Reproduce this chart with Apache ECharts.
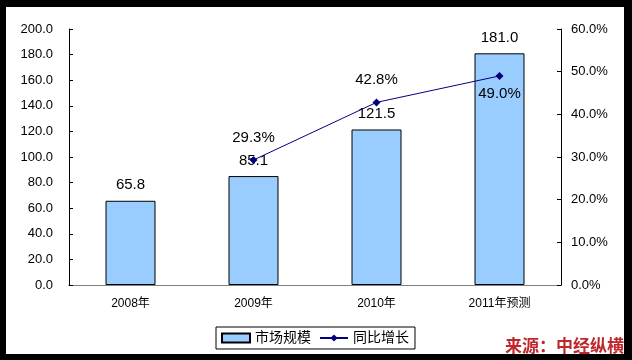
<!DOCTYPE html>
<html><head><meta charset="utf-8">
<script src="https://cdn.jsdelivr.net/npm/echarts@6/dist/echarts.min.js"></script>
<style>
html,body{margin:0;padding:0;background:#000;width:632px;height:360px;overflow:hidden;}
#c{position:absolute;left:6px;top:7px;width:618px;height:347px;background:#fff;}
</style></head>
<body><div id="c"></div>
<script>
const categories = ['2008年', '2009年', '2010年', '2011年预测'];
const marketSize = [65.8, 85.1, 121.5, 181.0];
const growth = [null, 29.3, 42.8, 49.0];
const growthLabelPos = ['top', 'top', 'top', 'bottom'];
const leftTicks = {min: 0, max: 200, interval: 20};
const rightTicks = {min: 0, max: 60, interval: 10};
const seriesNames = ['市场规模', '同比增长'];
const sourceText = '来源：中经纵横';

const chart = echarts.init(document.getElementById('c'), null, {renderer: 'canvas'});
const font = 'Arial, "Liberation Sans", "Noto Sans CJK SC", sans-serif';
chart.setOption({
  animation: false,
  textStyle: {fontFamily: font},
  grid: {left: 63, right: 63, top: 22, bottom: 69, containLabel: false},
  legend: {
    data: [
      {name: seriesNames[0], icon: 'rect'},
      {name: seriesNames[1]}
    ],
    left: 'center', top: 320,
    borderColor: '#000', borderWidth: 1, borderRadius: 0,
    padding: [4, 6, 4, 5],
    itemWidth: 28, itemHeight: 9, itemGap: 8,
    textStyle: {fontSize: 14, color: '#000', fontFamily: font}
  },
  xAxis: [{
    type: 'category', data: categories,
    axisLine: {lineStyle: {color: '#000', width: 1}},
    axisTick: {inside: true, length: 4, lineStyle: {color: '#000'}},
    axisLabel: {fontSize: 12, color: '#000', margin: 13}
  }, {
    type: 'category', data: categories, position: 'top',
    axisLine: {show: true, lineStyle: {color: '#808080'}},
    axisTick: {show: false}, axisLabel: {show: false}
  }],
  yAxis: [{
    type: 'value', min: leftTicks.min, max: leftTicks.max, interval: leftTicks.interval,
    axisLine: {show: true, lineStyle: {color: '#000'}},
    axisTick: {show: true, inside: true, length: 4, lineStyle: {color: '#000'}},
    splitLine: {show: false},
    axisLabel: {fontSize: 13, color: '#000', margin: 16, formatter: v => v.toFixed(1)}
  }, {
    type: 'value', min: rightTicks.min, max: rightTicks.max, interval: rightTicks.interval,
    position: 'right',
    axisLine: {show: true, lineStyle: {color: '#000'}},
    axisTick: {show: true, inside: true, length: 4, lineStyle: {color: '#000'}},
    splitLine: {show: false},
    axisLabel: {fontSize: 13, color: '#000', margin: 10, formatter: v => v.toFixed(1) + '%'}
  }],
  series: [{
    name: seriesNames[0], type: 'bar', data: marketSize, barWidth: 50,
    itemStyle: {color: '#99CCFF', borderColor: '#000', borderWidth: 1},
    label: {show: true, position: 'top', distance: 8, fontSize: 15, color: '#000',
      formatter: p => p.value.toFixed(1)}
  }, {
    name: seriesNames[1], type: 'line', yAxisIndex: 1, data: growth.map((v, i) => ({
      value: v,
      label: {position: growthLabelPos[i], distance: growthLabelPos[i] === 'top' ? 11 : 6}
    })),
    symbol: 'diamond', symbolSize: 8, connectNulls: false,
    lineStyle: {color: '#000080', width: 1},
    itemStyle: {color: '#000080'},
    label: {show: true, fontSize: 15, color: '#000',
      formatter: p => p.value == null ? '' : p.value.toFixed(1) + '%'}
  }],
  graphic: [{
    type: 'text', right: 0, bottom: 0,
    style: {text: sourceText, fill: '#C0272D', font: 'bold 17px "Noto Sans CJK SC", sans-serif'}
  }]
});
</script></body></html>
